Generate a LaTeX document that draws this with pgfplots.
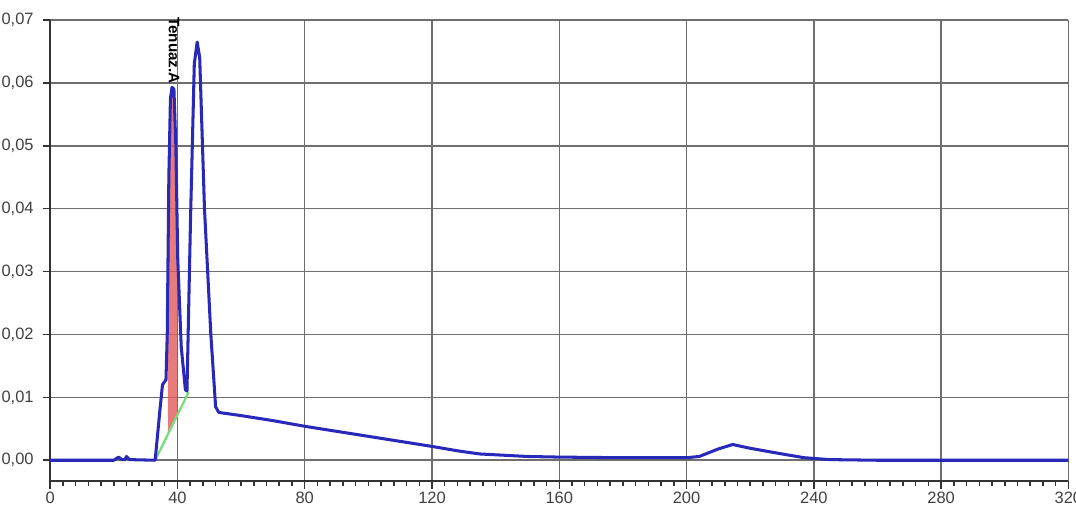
\documentclass[border=0pt]{standalone}
\usepackage{pgfplots}
\pgfplotsset{compat=1.18}
\usepackage{fontspec}
\setmainfont{Liberation Sans}
\definecolor{curveblue}{RGB}{40,40,185}
\definecolor{gridgray}{RGB}{110,110,110}
\definecolor{peakred}{RGB}{225,90,90}
\definecolor{basegreen}{RGB}{120,220,120}
\begin{document}
\begin{tikzpicture}
\begin{axis}[
  name=ax,
  scale only axis,
  width=402pt, height=182pt,
  xmin=0, xmax=320, ymin=-0.0033, ymax=0.07,
  axis x line=bottom, axis y line=left,
  axis line style={-, line width=0.8pt, black!80},
  xtick={0,40,...,320},
  ytick={0,0.01,...,0.07},
  minor x tick num=9,
  tick align=outside,
  major tick length=3pt, minor tick length=2pt,
  tick style={black!80, line width=0.6pt},
  grid=major,
  major grid style={gridgray, line width=0.6pt},
  ticklabel style={font=\fontsize{6.5}{7}\selectfont, text=black!75},
  /pgf/number format/assume math mode=true,
  yticklabel style={/pgf/number format/.cd, use comma, fixed, fixed zerofill, precision=2},
  xticklabel style={yshift=2.2pt, /pgf/number format/.cd, fixed, precision=0},
  scaled y ticks=false,
  clip=false,
]
% red integrated peak
\addplot[draw=none, fill=peakred, fill opacity=0.8] coordinates {
  (37.0,0.0040) (37.0,0.035) (37.6,0.055) (38.2,0.0592) (38.9,0.0590) (39.5,0.050) (39.9,0.036) (39.9,0.0072)
} -- cycle;
% green baseline
\addplot[basegreen, line width=0.9pt] coordinates {(33,0) (43.5,0.0108)};
% chromatogram
\addplot[curveblue, line width=1.2pt, line join=round] coordinates {
  (0,0) (20,0) (21.5,0.0005) (22.5,0.0001) (23.5,0.0001) (24,0.0006) (25,0.0001)
  (33,0) (34.5,0.008) (35.3,0.0120) (36.4,0.0128) (36.8,0.020) (37.3,0.045)
  (37.8,0.0575) (38.3,0.0593) (38.9,0.0590) (39.5,0.050) (40.1,0.032) (41.2,0.018)
  (42.5,0.0112) (43,0.011) (44.1,0.038)
  (45.3,0.063) (46.2,0.0665) (47.0,0.064) (48.5,0.040) (50.5,0.020) (52,0.0085)
  (53,0.0076) (60,0.0071) (70,0.0063) (80,0.0054) (90,0.0046) (100,0.0038)
  (110,0.0030) (120,0.0022) (128,0.0015) (135,0.0010) (150,0.0006) (160,0.0005)
  (180,0.0004) (200,0.0004) (204,0.0006) (210,0.0018) (214.5,0.0025) (220,0.0019)
  (230,0.0010) (237,0.0004) (245,0.0001) (260,0) (320,0)
};
\node[rotate=-90, anchor=west, font=\fontsize{6}{7}\selectfont\bfseries, inner sep=0pt]
  at (axis cs:38.9,0.0705) {Tenuaz.A};
\end{axis}
\pgfresetboundingbox
\path[use as bounding box] ([xshift=-19.8pt,yshift=-9.3pt]ax.south west) rectangle ([xshift=3pt,yshift=7.9pt]ax.north east);
\end{tikzpicture}
\end{document}
